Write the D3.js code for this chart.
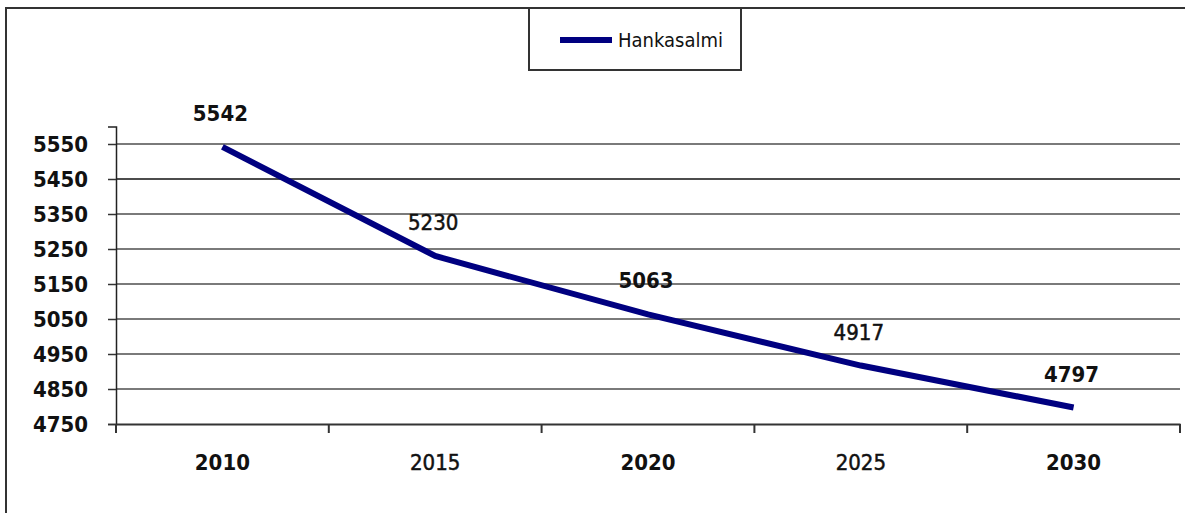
<!DOCTYPE html>
<html>
<head>
<meta charset="utf-8">
<script src="https://cdn.jsdelivr.net/npm/d3@7"></script>
<style>
  body { margin: 0; background: #fff; }
  text { font-family: "DejaVu Sans Condensed", "DejaVu Sans", sans-serif; font-stretch: condensed; }
</style>
</head>
<body>
<script>
// data
let years = ["2010", "2015", "2020", "2025", "2030"];
let population = [5542, 5230, 5063, 4917, 4797];
let yTicks = [4750, 4850, 4950, 5050, 5150, 5250, 5350, 5450, 5550];
let boldLabel = [true, false, true, false, true];
let seriesName = "Hankasalmi";

function draw() {
    let svg = d3.select("body")
        .append("svg")
        .attr("width", 1185)
        .attr("height", 513);

    // outer frame
    svg.append("rect")
        .attr("x", 6).attr("y", 8)
        .attr("width", 1200).attr("height", 520)
        .attr("fill", "#fff")
        .attr("stroke", "#333")
        .attr("stroke-width", 2);

    let x = d3.scaleBand()
        .domain(years)
        .range([116, 1180])
        .padding(0);

    let y = d3.scaleLinear()
        .domain([4750, 5600])
        .range([424, 126.5]);

    // gridlines
    svg.selectAll(".grid")
        .data(yTicks.slice(1))
        .enter()
        .append("line")
        .attr("x1", 116).attr("x2", 1180)
        .attr("y1", d => y(d)).attr("y2", d => y(d))
        .attr("stroke", d => d == 5450 ? "#111" : "#7a7a7a")
        .attr("stroke-width", d => d == 5450 ? 1.3 : 2.2);

    // y axis
    let yAxis = svg.append("g")
        .attr("transform", "translate(116,0)")
        .call(d3.axisLeft(y).tickValues(yTicks).tickSize(8).tickPadding(20).tickFormat(d3.format("d")));
    yAxis.select(".domain").attr("stroke", "#222").attr("stroke-width", 1.5);
    yAxis.selectAll(".tick line").attr("stroke", "#333").attr("stroke-width", 1.5);
    yAxis.selectAll("text")
        .attr("fill", "#111")
        .style("font-size", "22px")
        .style("font-weight", "bold");

    // x axis
    let xAxis = svg.append("g")
        .attr("transform", "translate(0,424)")
        .call(d3.axisBottom(x).tickSize(0).tickPadding(30));
    xAxis.select(".domain").attr("stroke", "#333").attr("stroke-width", 2);
    xAxis.selectAll("text")
        .attr("fill", "#111")
        .attr("stroke", (d, i) => boldLabel[i] ? "none" : "#111")
        .attr("stroke-width", 0.5)
        .style("font-size", "22px")
        .style("font-weight", (d, i) => boldLabel[i] ? "bold" : "normal");

    // band boundary ticks
    let bounds = years.map(d => x(d)).concat([x.range()[1]]);
    svg.selectAll(".xtick")
        .data(bounds)
        .enter()
        .append("line")
        .attr("x1", d => d).attr("x2", d => d)
        .attr("y1", 424).attr("y2", 433)
        .attr("stroke", "#333")
        .attr("stroke-width", 2);

    // series line
    let pts = years.map((d, i) => [x(d) + x.bandwidth() / 2, y(population[i])]);
    svg.append("path")
        .datum(pts)
        .attr("d", d3.line())
        .attr("fill", "none")
        .attr("stroke", "#000080")
        .attr("stroke-width", 6);

    // data labels
    svg.selectAll(".lbl")
        .data(pts)
        .enter()
        .append("text")
        .attr("x", d => d[0] - 2)
        .attr("y", d => d[1] - 26)
        .attr("text-anchor", "middle")
        .attr("fill", "#111")
        .attr("stroke", (d, i) => boldLabel[i] ? "none" : "#111")
        .attr("stroke-width", 0.5)
        .style("font-size", "22px")
        .style("font-weight", (d, i) => boldLabel[i] ? "bold" : "normal")
        .text((d, i) => population[i]);

    // legend
    svg.append("rect")
        .attr("x", 529).attr("y", 8)
        .attr("width", 212).attr("height", 62)
        .attr("fill", "#fff")
        .attr("stroke", "#333")
        .attr("stroke-width", 2);
    svg.append("line")
        .attr("x1", 560).attr("x2", 612)
        .attr("y1", 40).attr("y2", 40)
        .attr("stroke", "#000080")
        .attr("stroke-width", 6);
    svg.append("text")
        .attr("x", 618).attr("y", 47)
        .attr("fill", "#111")
        .style("font-size", "20px")
        .text(seriesName);
}

draw();
</script>
</body>
</html>
